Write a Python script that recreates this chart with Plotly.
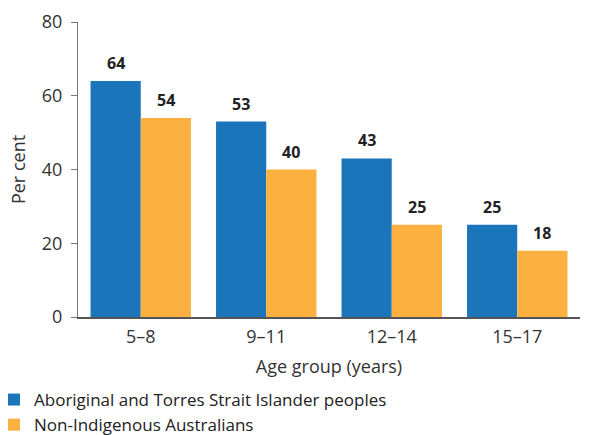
import plotly.graph_objects as go

categories = ["5–8", "9–11", "12–14", "15–17"]
aboriginal = [64, 53, 43, 25]
non_indigenous = [54, 40, 25, 18]
series_names = ["Aboriginal and Torres Strait Islander peoples", "Non-Indigenous Australians"]
y_ticks = [0, 20, 40, 60, 80]

FONT = "Open Sans, sans-serif"
COLORS = ["#1a75bb", "#fbb040"]
BAR_HALF = 25  # px offset of each bar centre from the category centre

fig = go.Figure()
for name, vals, col in zip(series_names, [aboriginal, non_indigenous], COLORS):
    fig.add_trace(go.Bar(x=categories, y=vals, name=name,
                         marker=dict(color=col, line=dict(width=0)), hoverinfo="skip"))

for vals, shift in [(aboriginal, -BAR_HALF), (non_indigenous, BAR_HALF)]:
    for c, v in zip(categories, vals):
        fig.add_annotation(x=c, y=v, text=f"<b>{v}</b>", showarrow=False,
                           xshift=shift, yshift=18, xref="x", yref="y",
                           font=dict(family=FONT, size=16, color="#222"))

fig.update_layout(
    width=598, height=435,
    margin=dict(l=78, r=18, t=22, b=118, autoexpand=False),
    paper_bgcolor="white", plot_bgcolor="white",
    barmode="group", bargap=0.2, bargroupgap=0,
    font=dict(family=FONT, size=17, color="#333"),
    showlegend=True,
    legend=dict(orientation="v", xref="paper", yref="paper",
                x=-84 / 502, xanchor="left", y=(317 - 382) / 295, yanchor="top",
                font=dict(family=FONT, size=17, color="#222"),
                tracegroupgap=0, itemwidth=30, traceorder="normal",
                bgcolor="rgba(0,0,0,0)"),
    xaxis=dict(showline=True, linecolor="#555", linewidth=1.5,
               ticks="outside", ticklen=3, tickcolor="rgba(0,0,0,0)",
               tickfont=dict(family=FONT, size=18, color="#333"),
               title=dict(text="Age group (years)", font=dict(family=FONT, size=18, color="#333"), standoff=13)),
    yaxis=dict(range=[0, 80], tickvals=y_ticks, showline=True, linecolor="#777", linewidth=1,
               ticks="outside", ticklen=6, tickcolor="#777", showgrid=False, zeroline=False,
               ticklabelstandoff=5,
               tickfont=dict(family=FONT, size=18, color="#333"),
               title=dict(text="Per cent", font=dict(family=FONT, size=18, color="#333"), standoff=11)),
)

fig.write_html("out.html", config={"displayModeBar": False},
               post_script="document.body.style.margin='0';")
